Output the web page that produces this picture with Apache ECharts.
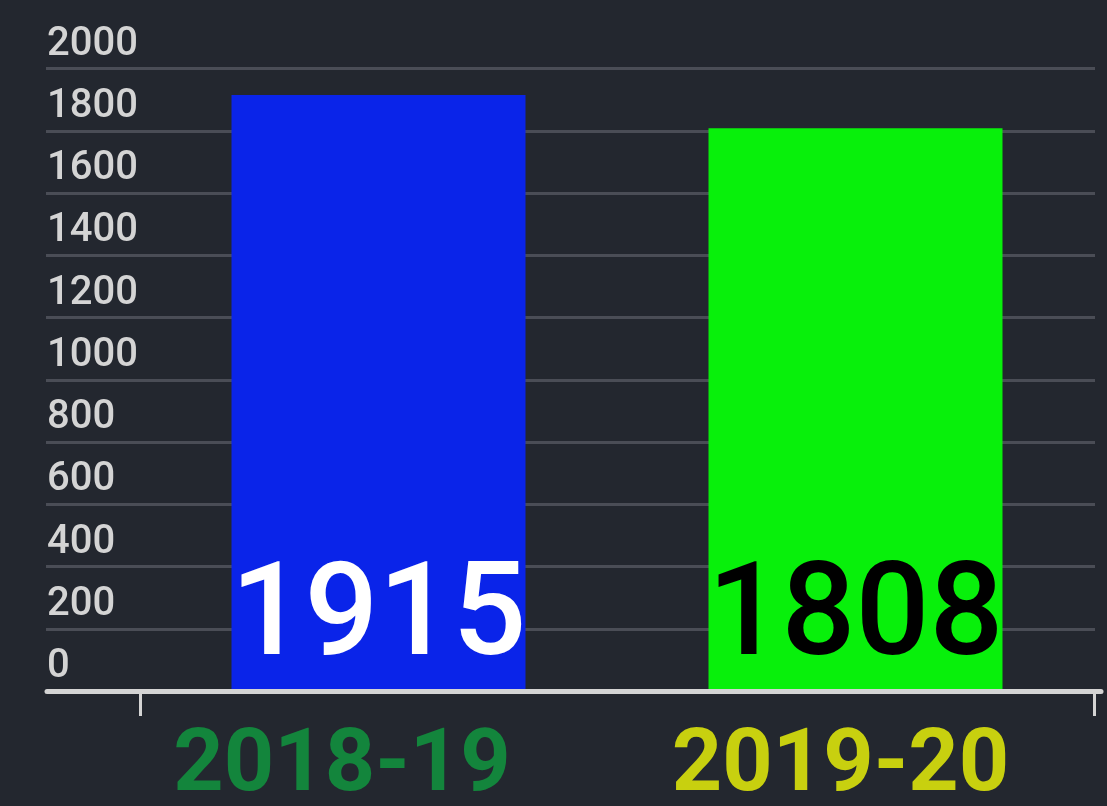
<!DOCTYPE html>
<html>
<head>
<meta charset="utf-8">
<title>bar</title>
<script src="https://cdn.jsdelivr.net/npm/echarts@6/dist/echarts.min.js"></script>
<style>
  html, body { margin: 0; padding: 0; background: #23272f; }
  #main { width: 1107px; height: 806px; }
</style>
</head>
<body>
<div id="main"></div>
<script>
// data
var years = ['2018-19', '2019-20']
var totals = [1915, 1808]
var barColors = ['#0a24e9', '#08f00b']
var barLabelColors = ['#ffffff', '#000000']
var yearColors = ['#13853c', '#c8d00f']
var yMin = 0
var yMax = 2000
var yStep = 200

var myChart = echarts.init(document.getElementById('main'))

var gridTop = 68.5
var gridBottom = 115

var barData = []
for (var i = 0; i < totals.length; i++) {
  barData.push({
    value: totals[i],
    itemStyle: { color: barColors[i] },
    label: { color: barLabelColors[i] }
  })
}

// 类目标签颜色 + 偏移
var labelShift = [73, 30]
var catData = []
for (var j = 0; j < years.length; j++) {
  catData.push({
    value: years[j],
    textStyle: { color: yearColors[j], padding: [0, labelShift[j], 0, 0] }
  })
}

var option = {
  backgroundColor: '#23272f',
  animation: false,
  // 三个grid叠在一起: 网格线 / 底部轴线 / 柱子
  grid: [
    { left: 46, right: 12, top: gridTop, bottom: gridBottom, outerBoundsMode: 'none' },
    { left: 47, right: 6, top: gridTop, bottom: gridBottom, outerBoundsMode: 'none' },
    { left: 140, right: 13, top: gridTop, bottom: gridBottom, outerBoundsMode: 'none' }
  ],
  xAxis: [
    { gridIndex: 0, type: 'value', show: false },
    {
      gridIndex: 1, type: 'value', min: 0, max: 1, z: 5,
      axisLine: { show: true, lineStyle: { color: '#d4d4d4', width: 5 } },
      axisTick: { show: false },
      axisLabel: { show: false },
      splitLine: { show: false }
    },
    {
      gridIndex: 2, type: 'category', data: catData,
      axisLine: { show: false },
      axisTick: {
        show: true, length: 25,
        interval: function (index) { return index === 0 },
        lineStyle: { color: '#d4d4d4', width: 3 }
      },
      axisLabel: {
        interval: 0,
        margin: 33,
        fontSize: 88,
        fontWeight: 'bold',
        fontFamily: 'Roboto'
      }
    }
  ],
  yAxis: [
    {
      gridIndex: 0, type: 'value', min: yMin, max: yMax, interval: yStep,
      axisLine: { show: false },
      axisTick: { show: false },
      splitLine: { show: true, lineStyle: { color: '#4a4d56', width: 3 } },
      axisLabel: {
        inside: true,
        margin: 1,
        verticalAlign: 'bottom',
        color: '#d4d4d4',
        fontSize: 40,
        fontWeight: 500,
        fontFamily: 'Roboto',
        padding: [0, 0, 4, 0],
        formatter: function (v) { return String(v) }
      }
    },
    { gridIndex: 1, type: 'value', min: yMin, max: yMax, show: false },
    { gridIndex: 2, type: 'value', min: yMin, max: yMax, show: false }
  ],
  series: [{
    type: 'bar',
    xAxisIndex: 2,
    yAxisIndex: 2,
    barWidth: 294,
    data: barData,
    label: {
      show: true,
      position: 'insideBottom',
      distance: 5,
      fontSize: 130,
      fontWeight: 500,
      fontFamily: 'Roboto'
    }
  }]
}

myChart.setOption(option)
</script>
</body>
</html>
